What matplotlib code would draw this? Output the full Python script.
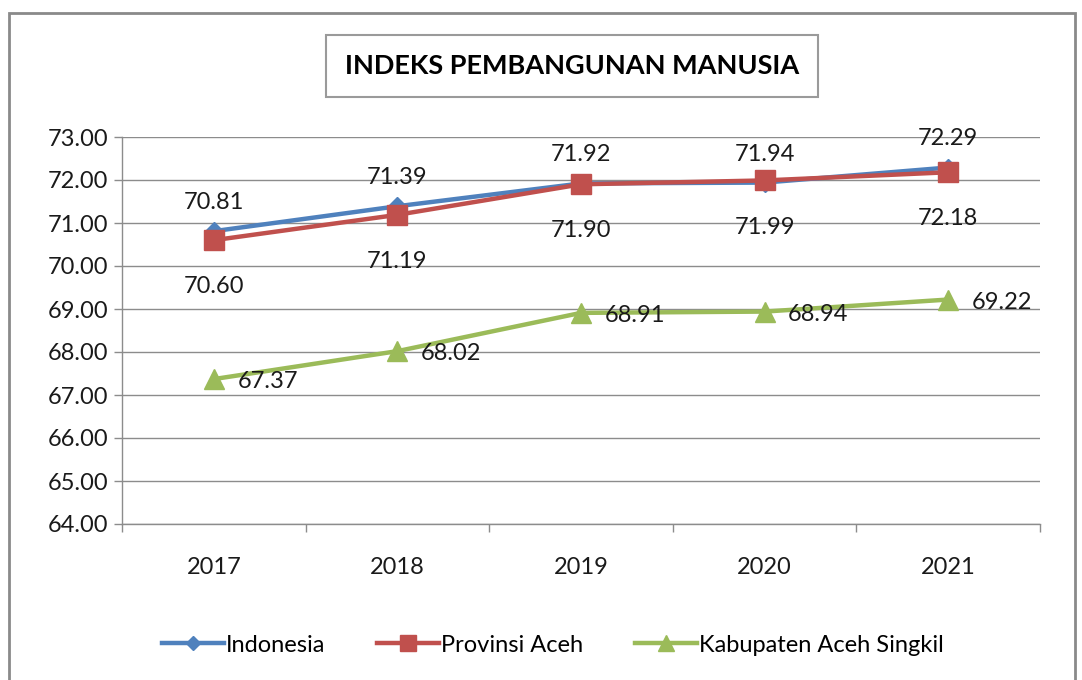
import matplotlib

matplotlib.use("Agg")
import matplotlib.pyplot as plt  # noqa: E402
from matplotlib.patches import Rectangle  # noqa: E402

# --- data ---
years = ["2017", "2018", "2019", "2020", "2021"]
indonesia = [70.81, 71.39, 71.92, 71.94, 72.29]
aceh = [70.60, 71.19, 71.90, 71.99, 72.18]
singkil = [67.37, 68.02, 68.91, 68.94, 69.22]
yticks = [64, 65, 66, 67, 68, 69, 70, 71, 72, 73]

BLUE = "#4F81BD"
RED = "#C0504D"
GREEN = "#9BBB59"
GRID = "#8c8c8c"
TEXT = "#1a1a1a"
FS = 17

plt.rcParams["font.family"] = ["Lato", "DejaVu Sans"]

W, H = 1082, 680
fig = plt.figure(figsize=(W / 100, H / 100), dpi=100)
fig.patch.set_facecolor("white")

# outer chart frame
fig.patches.append(Rectangle((9 / W, -0.01), (1075 - 9) / W, 1 - 13 / H + 0.01,
                             transform=fig.transFigure, fill=False,
                             edgecolor="#8a8a8a", lw=2))

ax = fig.add_axes([122 / W, 1 - 524 / H, (1040 - 122) / W, (524 - 137) / H])
xs = list(range(len(years)))

ax.plot(xs, indonesia, "-D", color=BLUE, lw=3.2, ms=9, zorder=3, label="Indonesia")
ax.plot(xs, aceh, "-s", color=RED, lw=3.2, ms=14, zorder=4, label="Provinsi Aceh")
ax.plot(xs, singkil, "-^", color=GREEN, lw=3.2, ms=14, zorder=3,
        label="Kabupaten Aceh Singkil")

for x, y in zip(xs, indonesia):
    ax.annotate(f"{y:.2f}", (x, y), textcoords="offset points", xytext=(0, 13),
                ha="center", va="bottom", fontsize=FS, color=TEXT)
for x, y in zip(xs, aceh):
    ax.annotate(f"{y:.2f}", (x, y), textcoords="offset points", xytext=(0, -26),
                ha="center", va="top", fontsize=FS, color=TEXT)
for x, y in zip(xs, singkil):
    ax.annotate(f"{y:.2f}", (x, y), textcoords="offset points", xytext=(17, -2),
                ha="left", va="center", fontsize=FS, color=TEXT)

ax.set_xlim(-0.5, len(years) - 0.5)
ax.set_ylim(64, 73)
ax.set_yticks(yticks)
ax.set_yticklabels([f"{v:.2f}" for v in yticks])
ax.set_xticks(xs)
ax.set_xticklabels(years)
ax.set_xticks([i - 0.5 for i in range(len(years) + 1)], minor=True)
ax.tick_params(axis="x", which="major", length=0, pad=24, labelsize=FS,
               labelcolor=TEXT)
ax.tick_params(axis="x", which="minor", length=6, color=GRID, width=1)
ax.tick_params(axis="y", length=6, color=GRID, width=1, pad=4, labelsize=FS,
               labelcolor=TEXT)

ax.grid(True, axis="y", color=GRID, lw=1, zorder=0)
ax.set_axisbelow(True)
for side in ("top", "right"):
    ax.spines[side].set_visible(False)
for side in ("left", "bottom"):
    ax.spines[side].set_color(GRID)
    ax.spines[side].set_linewidth(1)

fig.text(572 / W, 1 - 66 / H, "INDEKS PEMBANGUNAN MANUSIA", ha="center",
         va="center", fontsize=19.5, fontweight="bold", color="black",
         bbox=dict(boxstyle="square,pad=0.7", fc="white", ec="#9a9a9a", lw=1.5))

fig.legend(loc="center", bbox_to_anchor=(553 / W, 1 - 645 / H), ncol=3,
           frameon=False, fontsize=FS, handlelength=2.6, handletextpad=0.1,
           columnspacing=2.2, markerscale=0.8)

fig.savefig("out.png", dpi=100)
